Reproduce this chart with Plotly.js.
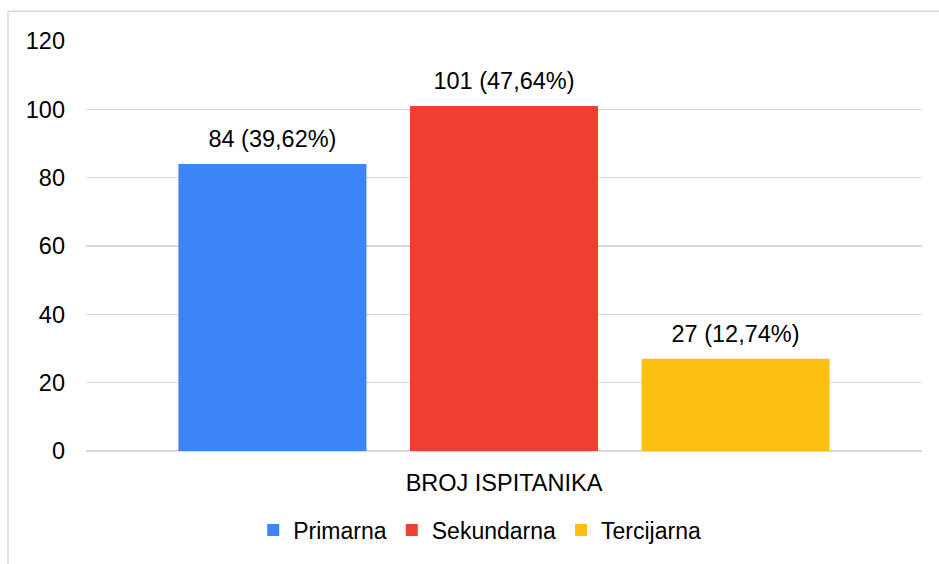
<!DOCTYPE html>
<html>
<head>
<meta charset="utf-8">
<script src="https://cdn.plot.ly/plotly-3.0.1.min.js"></script>
<style>
html,body{margin:0;padding:0;background:#fff;}
#chart{width:939px;height:564px;}
</style>
</head>
<body>
<div id="chart"></div>
<script>
var category = ["BROJ ISPITANIKA"];
var seriesNames = ["Primarna", "Sekundarna", "Tercijarna"];
var counts = [84, 101, 27];
var percents = ["39,62%", "47,64%", "12,74%"];
var colors = ["#3D84F7", "#EE3F31", "#FDBF12"];
var yTicks = [0, 20, 40, 60, 80, 100, 120];

var FONT = "Liberation Sans, Arial, sans-serif";

var traces = seriesNames.map(function (name, i) {
  return {
    type: "bar",
    name: name,
    x: category,
    y: [counts[i]],
    text: [counts[i] + " (" + percents[i] + ")"],
    textposition: "outside",
    cliponaxis: false,
    textfont: {family: FONT, size: 23.5, color: "#000"},
    marker: {color: colors[i], line: {width: 0}},
    hoverinfo: "none"
  };
});

var layout = {
  width: 939,
  height: 564,
  margin: {l: 86, r: 17, t: 41, b: 110},
  paper_bgcolor: "#fff",
  plot_bgcolor: "#fff",
  barmode: "group",
  bargap: 0.169,
  bargroupgap: 0.188,
  showlegend: true,
  legend: {
    orientation: "h",
    x: 0.471,
    xanchor: "center",
    y: -0.193,
    yanchor: "middle",
    font: {family: FONT, size: 23, color: "#000"},
    itemwidth: 30,
    tracegroupgap: 0
  },
  font: {family: FONT, size: 23, color: "#000"},
  xaxis: {
    type: "category",
    showgrid: false,
    showline: false,
    zeroline: false,
    ticks: "",
    tickfont: {family: FONT, size: 23.5, color: "#000"},
    ticklabelstandoff: 15
  },
  yaxis: {
    range: [0, 120],
    tickvals: yTicks,
    ticktext: yTicks.map(String),
    showgrid: true,
    gridcolor: "#d9d9d9",
    gridwidth: 1.5,
    zeroline: true,
    zerolinecolor: "#d9d9d9",
    zerolinewidth: 1.5,
    showline: false,
    ticks: "",
    tickfont: {family: FONT, size: 23.5, color: "#000"},
    ticklabelstandoff: 20
  },
  shapes: [{
    type: "rect",
    xref: "paper",
    yref: "paper",
    x0: (8 - 86) / 836,
    x1: 1.2,
    y0: -0.4,
    y1: (454 - 11) / 413,
    line: {color: "#d9d9d9", width: 1.5},
    fillcolor: "rgba(0,0,0,0)",
    layer: "below"
  }]
};

Plotly.newPlot("chart", traces, layout, {displayModeBar: false, staticPlot: true}).then(function () {
  // lift the outside bar labels a little higher above the bars, as in the reference
  document.querySelectorAll("#chart .bartext").forEach(function (t) {
    var tr = t.getAttribute("transform") || "";
    t.setAttribute("transform", "translate(0,-9) " + tr);
  });
});
</script>
</body>
</html>
